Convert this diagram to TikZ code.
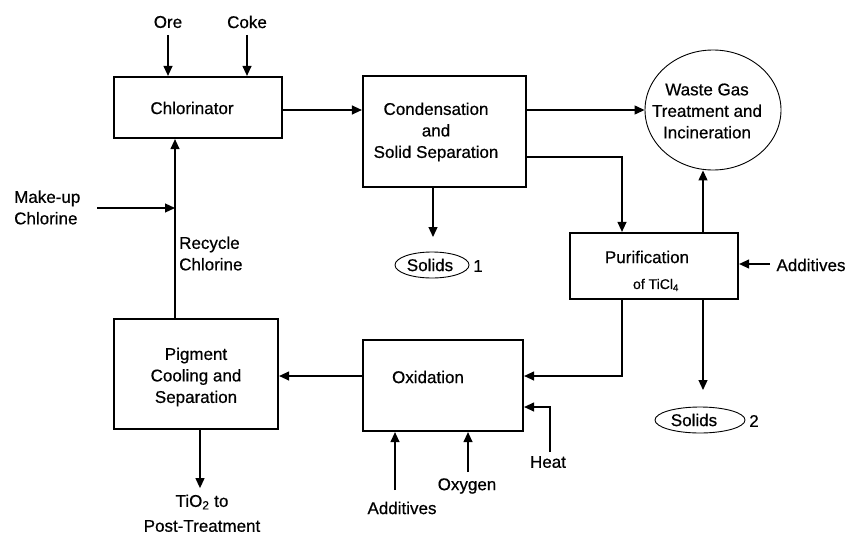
\documentclass[tikz,border=0pt]{standalone}
\usepackage{fontspec}
\setmainfont{Liberation Sans}[FakeBold=0.6]
\usetikzlibrary{arrows.meta,shapes.geometric}
\begin{document}
\begin{tikzpicture}[x=1pt,y=-1pt,
  font=\fontsize{17}{21.5}\selectfont,
  box/.style={draw,line width=2.2pt,minimum width=#1,inner sep=0pt},
  oval/.style={draw,ellipse,line width=0.9pt,inner sep=0pt},
  txt/.style={inner sep=1pt,align=center},
  arr/.style={line width=1.2pt,-{Triangle[length=10pt,width=9pt]}},
  ln/.style={line width=1.2pt}]
\useasboundingbox (0,0) rectangle (848,535);
% boxes
\node[box=168pt,minimum height=61pt] (chl) at (198,107.5) {};
\node[box=163pt,minimum height=111pt] (cond) at (444.5,131.5) {};
\node[oval,minimum width=136pt,minimum height=120pt] (waste) at (713,110) {};
\node[box=168pt,minimum height=66pt] (pur) at (654,266) {};
\node[box=160pt,minimum height=91pt] (oxi) at (443,385.5) {};
\node[box=164pt,minimum height=110pt] (pig) at (196,374) {};
\node[oval,minimum width=74pt,minimum height=26pt] (sol1) at (432,265) {};
\node[oval,minimum width=90pt,minimum height=26pt] (sol2) at (700,420) {};
% texts
\node[txt] (chlT) at (192,108) {Chlorinator};
\node[txt] (condT) at (436,132) {Condensation\\and\\Solid Separation};
\node[txt] (wasteT) at (707,111) {Waste Gas\\Treatment and\\Incineration};
\node[txt] (purT) at (647,257) {Purification};
\node[txt,font=\fontsize{14}{16}\selectfont] (purT2) at (656,285) {of TiCl\textsubscript{4}};
\node[txt] (oxiT) at (428,377) {Oxidation};
\node[txt] (pigT) at (196,377) {Pigment\\Cooling and\\Separation};
\node[txt] (sol1T) at (430,265) {Solids};
\node[txt] (sol2T) at (694,420) {Solids};
\node[txt] (one) at (478,266) {1};
\node[txt] (two) at (754,421) {2};
\node[txt] (ore) at (168,22) {Ore};
\node[txt] (coke) at (247,22) {Coke};
\node[txt,align=left,anchor=west] (makeup) at (13,207.5) {Make-up\\Chlorine};
\node[txt,align=left,anchor=west] (recyc) at (178,253.5) {Recycle\\Chlorine};
\node[txt] (add1) at (811,265) {Additives};
\node[txt] (heat) at (548,462) {Heat};
\node[txt] (oxy) at (467,486) {Oxygen};
\node[txt] (add2) at (402,508) {Additives};
\node[txt] (tio2) at (202,502) {TiO\textsubscript{2} to};
\node[txt] (post) at (202,526) {Post-Treatment};
% coordinates
\coordinate (oreS) at (168,35);
\coordinate (cokeS) at (247,35);
\coordinate (mkS) at (97,208);
\coordinate (rc) at (175,208);
\coordinate (a2S) at (395,490);
\coordinate (oxS) at (468,472);
\coordinate (htS) at (550,452);
\coordinate (sol1A) at (433,237);
\coordinate (sol2A) at (703,390);
\coordinate (addS) at (770,264);
% connectors
\draw[arr] (oreS) -- (oreS |- chl.north);
\draw[arr] (cokeS) -- (cokeS |- chl.north);
\draw[arr] (chl.east |- 0,110) -- (cond.west |- 0,110);
\draw[arr] (cond.east |- waste.west) -- (waste.west);
\draw[arr] (cond.east |- 0,157) -| ([xshift=-32pt]pur.north);
\draw[arr] (sol1A |- cond.south) -- (sol1A);
\draw[arr] ([xshift=49pt]pur.north) -- ([xshift=49pt]pur.north |- waste.south);
\draw[arr] (addS) -- (addS -| pur.east);
\draw[arr] (sol2A |- pur.south) -- (sol2A);
\draw[arr] ([xshift=-32pt]pur.south) |- (oxi.east |- 0,376);
\draw[arr] (htS) |- (oxi.east |- 0,407);
\draw[arr] (a2S) -- (a2S |- oxi.south);
\draw[arr] (oxS) -- (oxS |- oxi.south);
\draw[arr] (oxi.west |- 0,376) -- (pig.east |- 0,376);
\draw[arr] ([xshift=4pt]pig.south) -- ++(0,58);
\draw[arr] (rc |- pig.north) -- (rc |- chl.south);
\draw[arr] (mkS) -- (rc);
\end{tikzpicture}
\end{document}
